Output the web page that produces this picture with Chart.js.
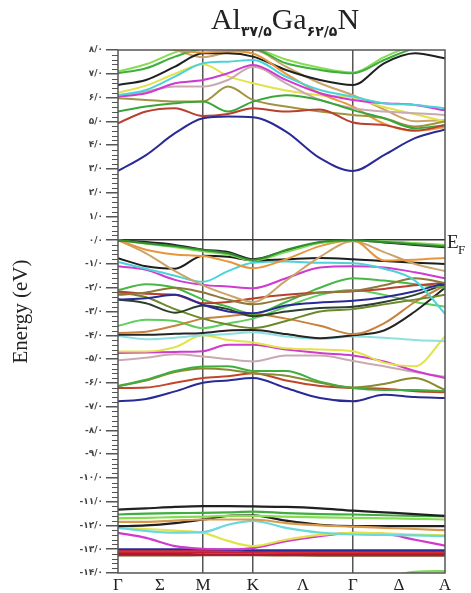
<!DOCTYPE html>
<html>
<head>
<meta charset="utf-8">
<script src="https://cdn.jsdelivr.net/npm/chart.js@4.4.0/dist/chart.umd.min.js"></script>
<style>
  body { margin: 0; background: #fff; }
  #wrap { position: relative; width: 471px; height: 593px; }
  #title {
    position: absolute; left: 0; top: 2px; width: 471px; padding-left: 99px; box-sizing: border-box;
    text-align: center; font-family: "Liberation Serif", serif; font-size: 30px; color: #222;
  }
  #title sub { font-family: "DejaVu Sans", sans-serif; font-size: 14px; font-weight: bold; vertical-align: -7px; letter-spacing: 1px; }
</style>
</head>
<body>
<div id="wrap">
  <canvas id="bands" width="471" height="593"></canvas>
  <div id="title">Al<sub>۳۷/۵</sub>Ga<sub>۶۲/۵</sub>N</div>
</div>
<script>
// k-path sample positions (Γ=0, M=85, K=135, Γ=235, A=327)
const kPath = [0, 28, 57, 85, 110, 135, 168, 202, 235, 266, 297, 327];
const symLabels = ['Γ', 'Σ', 'M', 'K', 'Λ', 'Γ', 'Δ', 'A'];
const symPos = [0, 42, 85, 135, 185, 235, 281, 327];
const symLines = [2, 3, 5];

// conduction bands (eV)
const conduction = [
  [2.91, 3.58, 4.5, 5.13, 5.2, 5.17, 4.57, 3.45, 2.91, 3.58, 4.29, 4.66],
  [4.92, 5.41, 5.55, 5.22, 5.31, 5.55, 5.41, 5.5, 4.95, 4.84, 4.61, 4.84],
  [5.41, 5.62, 5.76, 5.83, 5.41, 5.83, 6.1, 5.9, 5.47, 5.13, 4.71, 4.84],
  [5.97, 5.9, 5.83, 5.83, 6.46, 5.9, 5.62, 5.41, 5.27, 5.13, 4.78, 4.99],
  [6.1, 6.32, 6.88, 7.44, 7.51, 7.58, 6.88, 6.32, 6.04, 5.76, 5.69, 5.55],
  [6.04, 6.18, 6.6, 6.74, 7.02, 7.37, 6.74, 6.18, 5.9, 5.76, 5.69, 5.46],
  [6.04, 6.25, 6.46, 6.46, 6.74, 7.3, 6.6, 5.9, 5.55, 5.41, 5.34, 5.27],
  [8.5, 8.3, 8.0, 7.9, 7.95, 7.85, 7.0, 6.18, 5.62, 4.9, 4.6, 4.75],
  [6.53, 6.74, 7.3, 7.86, 7.86, 7.72, 7.16, 6.74, 6.53, 7.44, 7.86, 7.65],
  [7.02, 7.23, 7.72, 8.06, 8.1, 8.06, 7.44, 7.16, 7.02, 7.58, 8.07, 8.2],
  [7.1, 7.4, 7.9, 8.2, 8.2, 8.1, 7.6, 7.25, 7.05, 7.7, 8.2, 8.3],
  [6.2, 6.5, 7.0, 7.4, 6.9, 6.6, 6.3, 6.1, 6.0, 5.6, 5.3, 5.0],
  [8.3, 8.2, 8.0, 7.7, 7.9, 8.0, 7.3, 6.6, 6.1, 5.5, 5.0, 5.05]
];
const conductionColors = ['#2a2a96', '#b8402e', '#3aa63a', '#a09440', '#4cd2d8', '#cf3acf',
  '#c9aab0', '#e8963c', '#202020', '#3fae3f', '#86dc55', '#e2e24a', '#caa468'];

// valence bands (eV)
const valence = [
  [0, -0.13, -0.25, -0.41, -0.55, -0.83, -0.41, -0.08, 0, -0.08, -0.17, -0.27],
  [0, -0.15, -0.3, -0.47, -0.6, -0.86, -0.5, -0.12, -0.02, -0.05, -0.12, -0.2],
  [-0.02, -0.08, -0.2, -0.4, -0.5, -0.8, -0.45, -0.1, 0, -0.1, -0.2, -0.3],
  [0, -0.4, -0.6, -0.67, -0.9, -1.18, -0.8, -0.25, 0, -0.85, -0.82, -0.75],
  [0, -0.55, -1.3, -1.9, -2.3, -2.6, -1.7, -0.7, -0.05, -0.5, -1.0, -1.3],
  [-0.76, -1.1, -1.2, -0.65, -0.7, -0.85, -0.8, -0.75, -0.8, -0.88, -0.95, -1.0],
  [-0.92, -1.2, -1.5, -1.75, -1.3, -0.95, -0.9, -0.95, -0.97, -1.2, -1.7, -3.1],
  [-1.1, -1.25, -1.67, -1.88, -1.95, -2.02, -1.6, -1.15, -1.1, -1.15, -1.35, -1.6],
  [-2.3, -2.2, -2.0, -2.2, -2.5, -2.7, -2.45, -2.2, -2.14, -1.9, -1.6, -1.8],
  [-2.5, -2.44, -2.3, -2.72, -3.0, -3.07, -2.75, -2.62, -2.55, -2.4, -2.15, -1.8],
  [-2.16, -2.25, -2.3, -2.65, -2.6, -2.45, -2.3, -2.2, -2.15, -2.05, -1.9, -1.8],
  [-2.1, -1.85, -2.0, -2.5, -2.8, -3.1, -2.6, -2.0, -1.6, -1.7, -1.85, -2.0],
  [-2.5, -2.65, -3.05, -2.75, -2.9, -3.2, -3.0, -2.85, -2.8, -2.6, -2.3, -1.85],
  [-2.2, -2.4, -2.9, -3.3, -3.55, -3.7, -3.4, -3.0, -2.9, -2.7, -2.5, -2.3],
  [-3.9, -3.85, -3.6, -3.3, -3.2, -3.1, -3.3, -3.6, -3.95, -3.5, -2.6, -1.9],
  [-3.98, -3.98, -3.94, -3.9, -3.8, -3.78, -3.95, -4.12, -4.0, -3.8, -3.0, -2.0],
  [-4.03, -4.17, -4.1, -4.0, -3.95, -3.87, -4.05, -4.15, -4.05, -4.1, -4.2, -4.25],
  [-3.6, -3.35, -3.4, -3.7, -3.5, -3.3, -2.8, -2.3, -2.1, -2.3, -2.6, -2.8],
  [-4.68, -4.68, -4.5, -4.0, -4.2, -4.3, -4.55, -4.6, -4.67, -5.15, -5.3, -4.05],
  [-4.75, -4.72, -4.7, -4.67, -4.4, -4.4, -4.6, -4.75, -4.85, -5.1, -5.5, -5.8],
  [-5.05, -4.95, -4.8, -4.89, -5.0, -5.1, -4.85, -4.85, -5.08, -5.3, -5.55, -5.75],
  [-6.13, -5.87, -5.5, -5.31, -5.3, -5.5, -5.5, -5.95, -6.22, -6.3, -6.3, -6.35],
  [-6.15, -5.9, -5.55, -5.4, -5.45, -5.6, -5.7, -6.0, -6.2, -6.05, -5.8, -6.3],
  [-6.22, -6.2, -6.0, -5.8, -5.72, -5.6, -5.9, -6.13, -6.22, -6.25, -6.35, -6.4],
  [-6.78, -6.68, -6.36, -6.0, -5.9, -5.8, -6.22, -6.64, -6.78, -6.5, -6.6, -6.64]
];
const valenceColors = ['#2f8f2f', '#7ed957', '#222222', '#e8963c', '#caa468', '#1e1e1e',
  '#4cd2d8', '#cf3acf', '#8d7a3a', '#2a2a96', '#b8402e', '#46b846', '#2c402c', '#6d8a2a',
  '#c8823c', '#252525', '#8ee0e0', '#5ccf5c', '#e2e24a', '#cf3acf', '#c9aab0', '#3fae3f',
  '#8a8a30', '#c0462a', '#2a2a96'];

// semicore bands (eV)
const semicore = [
  [-11.33, -11.28, -11.22, -11.19, -11.19, -11.2, -11.22, -11.28, -11.38, -11.45, -11.52, -11.6],
  [-11.54, -11.5, -11.48, -11.47, -11.45, -11.42, -11.48, -11.52, -11.54, -11.57, -11.6, -11.62],
  [-11.7, -11.68, -11.65, -11.63, -11.6, -11.6, -11.63, -11.66, -11.68, -11.7, -11.72, -11.75],
  [-11.85, -11.85, -11.8, -11.75, -11.75, -11.75, -11.9, -12.0, -12.05, -12.1, -12.15, -12.2],
  [-12.03, -12.0, -11.9, -11.75, -11.6, -11.58, -11.8, -11.97, -12.03, -12.03, -12.03, -12.03],
  [-12.1, -12.23, -12.3, -12.28, -11.97, -11.81, -12.1, -12.3, -12.38, -12.4, -12.42, -12.45],
  [-12.1, -12.15, -12.22, -12.31, -12.65, -12.87, -12.6, -12.4, -12.31, -12.33, -12.38, -12.42],
  [-12.31, -12.52, -12.87, -12.98, -13.0, -12.95, -12.66, -12.45, -12.31, -12.35, -12.6, -12.85],
  [-13.0, -13.0, -13.0, -13.0, -13.02, -13.05, -13.05, -13.05, -13.05, -13.05, -13.05, -13.05],
  [-13.08, -13.08, -13.08, -13.06, -13.06, -13.08, -13.1, -13.1, -13.1, -13.1, -13.1, -13.1],
  [-13.12, -13.12, -13.12, -13.12, -13.12, -13.12, -13.14, -13.15, -13.15, -13.15, -13.15, -13.15],
  [-13.2, -13.2, -13.2, -13.22, -13.22, -13.22, -13.22, -13.22, -13.22, -13.22, -13.22, -13.22],
  [-13.26, -13.26, -13.26, -13.25, -13.25, -13.25, -13.26, -13.27, -13.27, -13.27, -13.27, -13.27],
  [-15, -15, -15, -15, -15, -15, -15, -15, -14.6, -14.2, -13.95, -13.92]
];
const semicoreColors = ['#202020', '#3fae3f', '#86dc55', '#d89a4a', '#202020', '#6ad8dc',
  '#e2e24a', '#cf3acf', '#2a2a96', '#e03030', '#c81e2e', '#a81830', '#7a4a20', '#7ed957'];

const faDigits = '۰۱۲۳۴۵۶۷۸۹';
function fa(v) {
  const r = Math.round(v);
  const n = String(Math.abs(r)).replace(/\d/g, d => faDigits[d]);
  return (r < 0 ? '-' : '') + n + '/' + faDigits[0];
}

const datasets = [];
function addBands(list, colors, width) {
  list.forEach((vals, i) => {
    datasets.push({
      data: vals.map((e, j) => ({ x: kPath[j], y: e })),
      borderColor: colors[i],
      borderWidth: width
    });
  });
}
addBands(semicore, semicoreColors, 2.2);
addBands(valence, valenceColors, 2);
addBands(conduction, conductionColors, 2);

const framePlugin = {
  id: 'frame',
  afterDatasetsDraw(chart) {
    const { ctx, chartArea: a, scales } = chart;
    ctx.save();
    ctx.strokeStyle = '#555';
    ctx.lineWidth = 1.5;
    ctx.strokeRect(a.left, a.top, a.right - a.left, a.bottom - a.top);
    // minor ticks on the energy axis
    ctx.lineWidth = 1;
    for (let i = -70; i <= 40; i++) {
      if (i % 5 === 0) continue;
      const y = Math.round(scales.y.getPixelForValue(i / 5)) + 0.5;
      ctx.beginPath();
      ctx.moveTo(a.left - 6, y);
      ctx.lineTo(a.left, y);
      ctx.stroke();
    }
    // Fermi level label
    const y0 = scales.y.getPixelForValue(0);
    ctx.fillStyle = '#222';
    ctx.font = '19px "Liberation Serif"';
    ctx.fillText('E', a.right + 2, y0 + 8);
    ctx.font = '13px "Liberation Serif"';
    ctx.fillText('F', a.right + 13, y0 + 14);
    ctx.restore();
  }
};

new Chart(document.getElementById('bands'), {
  type: 'line',
  data: { datasets },
  options: {
    responsive: false,
    animation: false,
    layout: { padding: { top: 50, right: 26, left: 0, bottom: 0 } },
    plugins: { legend: { display: false }, tooltip: { enabled: false } },
    elements: {
      point: { radius: 0 },
      line: { cubicInterpolationMode: 'monotone', fill: false }
    },
    scales: {
      x: {
        type: 'linear', min: 0, max: 327,
        afterBuildTicks: s => { s.ticks = symPos.map(v => ({ value: v })); },
        afterFit: s => { s.height = 20; },
        ticks: {
          autoSkip: false, maxRotation: 0, padding: 2, color: '#222',
          font: { family: 'Liberation Serif', size: 17 },
          callback: (v, i) => symLabels[i]
        },
        grid: {
          drawTicks: false, lineWidth: 1.5,
          color: c => symLines.includes(c.index) ? '#555' : 'rgba(0,0,0,0)'
        },
        border: { display: false }
      },
      y: {
        min: -14, max: 8,
        afterFit: s => { s.width = 118; },
        ticks: {
          stepSize: 1, padding: 3, color: '#444',
          font: { family: 'DejaVu Sans', size: 9, weight: 'bold' },
          callback: v => fa(v)
        },
        grid: {
          tickLength: 12, tickColor: '#555', lineWidth: 1.5,
          color: c => (c.tick && Math.round(c.tick.value) === 0) ? '#333' : 'rgba(0,0,0,0)'
        },
        border: { display: false },
        title: {
          display: true, text: 'Energy (eV)', color: '#222',
          font: { family: 'Liberation Serif', size: 21 },
          padding: { top: 9, bottom: 0 }
        }
      }
    }
  },
  plugins: [framePlugin]
});
</script>
</body>
</html>
